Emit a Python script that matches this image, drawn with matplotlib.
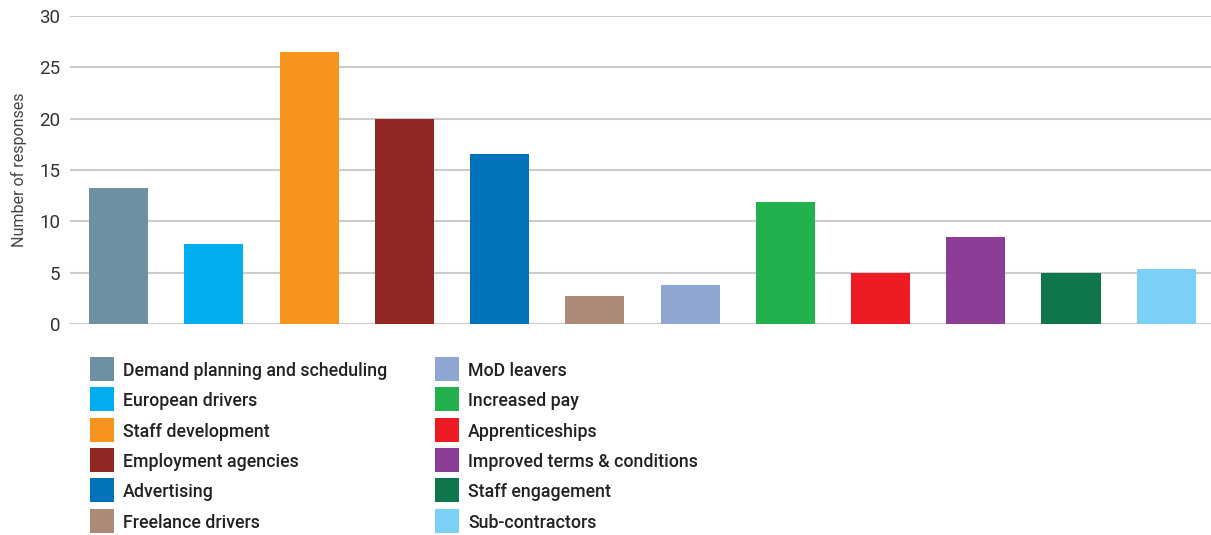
import matplotlib.pyplot as plt
from matplotlib.lines import Line2D

plt.rcParams['font.family'] = ['Roboto', 'DejaVu Sans']

# data
labels = ['Demand planning and scheduling', 'European drivers', 'Staff development',
          'Employment agencies', 'Advertising', 'Freelance drivers', 'MoD leavers',
          'Increased pay', 'Apprenticeships', 'Improved terms & conditions',
          'Staff engagement', 'Sub-contractors']
responses = [13.2, 7.8, 26.5, 20.0, 16.6, 2.7, 3.8, 11.9, 5.0, 8.5, 5.0, 5.4]
colors = ['#6D91A2', '#00AEEF', '#F7941D', '#922724', '#0072BC', '#AD8A77',
          '#8FA6D3', '#22B14C', '#ED1C24', '#8C3D96', '#0F754A', '#7DD0F5']
yticks = [0, 5, 10, 15, 20, 25, 30]

fig = plt.figure(figsize=(12.11, 5.35), dpi=100)
ax = fig.add_axes([70 / 1211, 1 - 324 / 535, 1 - 70 / 1211, 308 / 535])

x = range(len(labels))
ax.bar(x, responses, width=0.62, color=colors, zorder=3)

ax.set_xlim(-0.51, 11.47)
ax.set_ylim(0, 30)
ax.set_yticks(yticks)
ax.set_xticks([])
ax.grid(axis='y', color='#cccccc', linewidth=1.5, zorder=0)
ax.tick_params(axis='y', length=0, pad=7, labelsize=13.5, labelcolor='#333333')
for s in ax.spines.values():
    s.set_visible(False)
ax.set_ylabel('Number of responses', fontsize=11.5, color='#444444', labelpad=9)

# square legend keys
handles = [Line2D([], [], linestyle='', marker='s', markersize=17,
                  markerfacecolor=c, markeredgewidth=0, label=l)
           for c, l in zip(colors, labels)]
legend_kw = dict(frameon=False, handlelength=1.3, handleheight=1.0,
                 labelspacing=0.69, handletextpad=0.55, borderaxespad=0, borderpad=0,
                 labelcolor='#222222', prop={'weight': 'medium', 'size': 12.8})
leg1 = fig.legend(handles=handles[:6], loc='upper left',
                  bbox_to_anchor=(90 / 1211, 1 - 362 / 535), **legend_kw)
leg2 = fig.legend(handles=handles[6:], loc='upper left',
                  bbox_to_anchor=(435 / 1211, 1 - 362 / 535), **legend_kw)

fig.savefig('out.png', dpi=100)
